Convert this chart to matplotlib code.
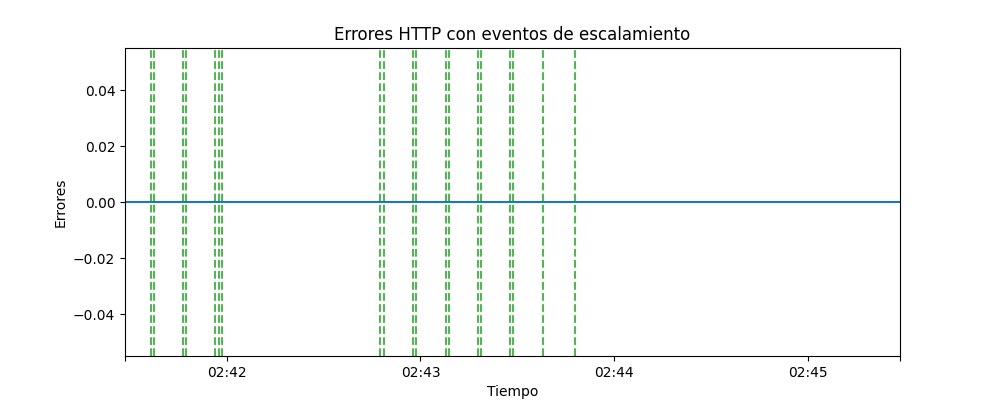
import matplotlib
matplotlib.use("Agg")
import matplotlib.pyplot as plt
import pandas as pd

# Data
series_times = ["2024-01-01 02:41:28.5", "2024-01-01 02:45:28.5"]
errors = [0, 0]
event_times = [
    "02:41:36.5", "02:41:37.5",
    "02:41:46.4", "02:41:47.4",
    "02:41:56.4", "02:41:57.5", "02:41:58.5",
    "02:42:47.6", "02:42:48.6",
    "02:42:57.6", "02:42:58.6",
    "02:43:07.8", "02:43:08.7",
    "02:43:17.7", "02:43:18.6",
    "02:43:27.6", "02:43:28.5",
    "02:43:37.8",
    "02:43:47.7",
]
tick_times = ["02:41:28.5", "02:42:00", "02:43:00", "02:44:00", "02:45:00", "02:45:28.5"]
tick_labels = ["", "02:42", "02:43", "02:44", "02:45", ""]

day = "2024-01-01 "
t_series = pd.to_datetime(series_times, format="mixed")
t_events = pd.to_datetime([day + t for t in event_times], format="mixed")
t_ticks = pd.to_datetime([day + t for t in tick_times], format="mixed")

fig, ax = plt.subplots(figsize=(10, 4), dpi=100)
for t in t_events:
    ax.axvline(t, color="C2", linestyle="--", alpha=0.8)
ax.plot(t_series, errors, color="C0")
ax.set_xlim(t_series[0], t_series[-1])
ax.set_xticks(t_ticks)
ax.set_xticklabels(tick_labels)
ax.set_title("Errores HTTP con eventos de escalamiento")
ax.set_xlabel("Tiempo")
ax.set_ylabel("Errores")
fig.savefig("out.png", dpi=100)
